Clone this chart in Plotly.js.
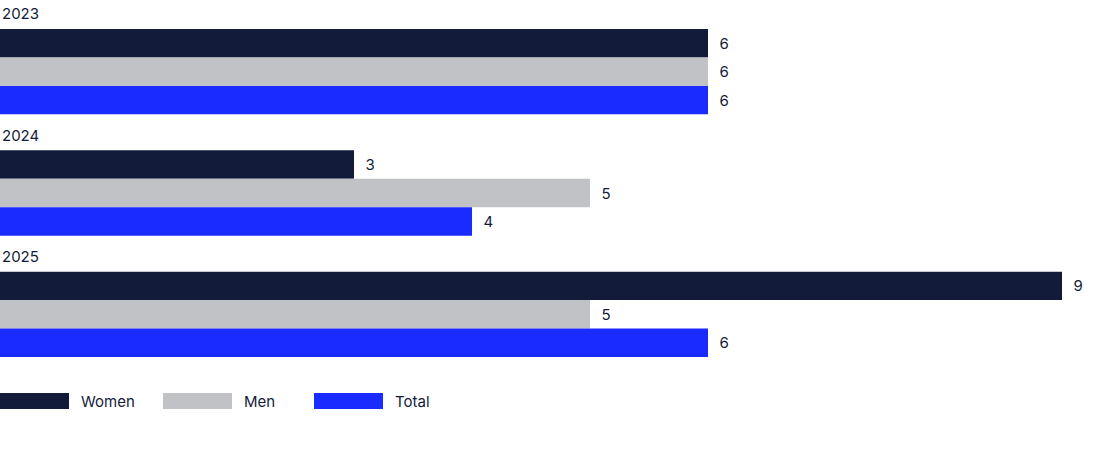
<!DOCTYPE html>
<html>
<head>
<meta charset="utf-8">
<script src="https://cdn.plot.ly/plotly-3.0.1.min.js"></script>
<style>
  html, body { margin: 0; padding: 0; background: #fff; }
  #chart { width: 1098px; height: 457px; }
</style>
</head>
<body>
<div id="chart"></div>
<script>
var years = ['2023', '2024', '2025'];
var women = [6, 3, 9];
var men = [6, 5, 5];
var total = [6, 4, 6];
var seriesNames = ['Women', 'Men', 'Total'];
var seriesColors = ['#121c3a', '#c0c2c5', '#1a2bff'];

var W = 1098, H = 457;
var mt = 11, mb = 82;
var plotH = H - mt - mb;
var txt = '#131b3a';
var fontFam = 'Inter, "Noto Sans", sans-serif';

function bars(vals, i){
  return {
    type: 'bar', orientation: 'h',
    x: vals, y: years,
    name: seriesNames[i],
    marker: { color: seriesColors[i], line: { width: 0 } },
    texttemplate: '\u00a0\u00a0%{x}',
    textposition: 'outside',
    textfont: { size: 15, color: txt, family: fontFam },
    cliponaxis: false,
    hoverinfo: 'skip'
  };
}

var data = [bars(women, 0), bars(men, 1), bars(total, 2)];

// pixel (from top of page) -> paper y
function py(p){ return (H - mb - p) / plotH; }

// year labels above each group (category index on the y axis)
var annotations = years.map(function(yr, i){
  return {
    xref: 'paper', x: 0, xanchor: 'left',
    yref: 'y', y: i, yanchor: 'middle',
    yshift: 58, showarrow: false,
    text: yr, font: { size: 15, color: txt, family: fontFam }
  };
});

// custom legend: wide swatches like the original
var shapes = [];
var legX = [0, 163, 314];
seriesNames.forEach(function(n, i){
  shapes.push({
    type: 'rect', xref: 'paper', yref: 'paper',
    x0: legX[i] / W, x1: (legX[i] + 69) / W,
    y0: py(409), y1: py(393),
    fillcolor: seriesColors[i], line: { width: 0 }
  });
  annotations.push({
    xref: 'paper', yref: 'paper',
    x: (legX[i] + 79) / W, xanchor: 'left',
    y: py(401), yanchor: 'middle',
    showarrow: false, text: n,
    font: { size: 15, color: txt, family: fontFam }
  });
});

var layout = {
  width: W, height: H,
  margin: { l: 0, r: 0, t: mt, b: mb, pad: 0 },
  paper_bgcolor: '#fff', plot_bgcolor: '#fff',
  barmode: 'group', bargap: 0.297, bargroupgap: 0,
  showlegend: false,
  xaxis: { range: [0, W / 118], showgrid: false, zeroline: false, showticklabels: false, showline: false, fixedrange: true },
  yaxis: { type: 'category', range: [2.5, -0.5], showgrid: false, zeroline: false, showticklabels: false, showline: false, fixedrange: true },
  annotations: annotations,
  shapes: shapes,
  font: { family: fontFam, color: txt }
};

Plotly.newPlot('chart', data, layout, { staticPlot: true });
</script>
</body>
</html>
